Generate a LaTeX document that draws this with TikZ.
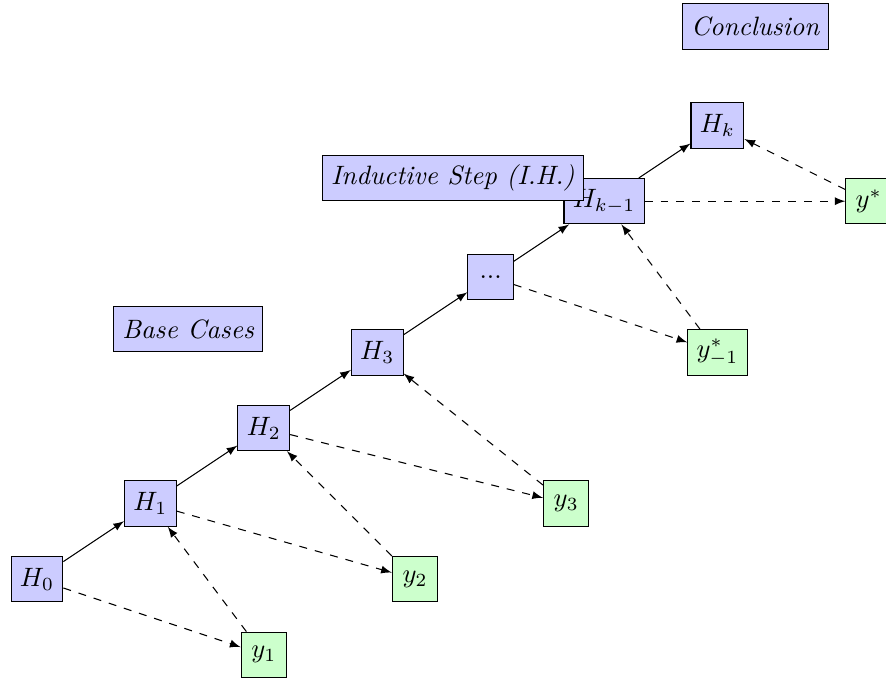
\documentclass[tikz,border=0pt]{standalone}
\begin{document}
\begin{tikzpicture}[
  hyp/.style={draw, fill=blue!20, minimum size=0.6cm},
  obs/.style={draw, fill=green!20, minimum size=0.6cm},
  lbl/.style={draw, fill=blue!20, minimum height=0.6cm, font=\itshape},
  infer/.style={-latex},
  use/.style={-latex, dashed}
]
\clip (-0.489,-1.294) rectangle (11.23,7.661);
\node[hyp] (h0) at (0,0) {$H_0$};
\node[hyp] (h1) at (1.5,1) {$H_1$};
\node[hyp] (h2) at (3,2) {$H_2$};
\node[hyp] (h3) at (4.5,3) {$H_3$};
\node[hyp] (hd) at (6,4) {$...$};
\node[hyp] (hk1) at (7.5,5) {$H_{k-1}$};
\node[hyp] (hk) at (9,6) {$H_k$};
\node[obs] (y1) at (3,-1) {$y_1$};
\node[obs] (y2) at (5,0) {$y_2$};
\node[obs] (y3) at (7,1) {$y_3$};
\node[obs] (ym) at (9,3) {$y^*_{-1}$};
\node[obs] (ys) at (11,5) {$y^*$};
\draw[infer] (h0) -- (h1);
\draw[infer] (h1) -- (h2);
\draw[infer] (h2) -- (h3);
\draw[infer] (h3) -- (hd);
\draw[infer] (hd) -- (hk1);
\draw[infer] (hk1) -- (hk);
\draw[use] (h0) -- (y1);
\draw[use] (y1) -- (h1);
\draw[use] (h1) -- (y2);
\draw[use] (y2) -- (h2);
\draw[use] (h2) -- (y3);
\draw[use] (y3) -- (h3);
\draw[use] (hd) -- (ym);
\draw[use] (ym) -- (hk1);
\draw[use] (hk1) -- (ys);
\draw[use] (ys) -- (hk);
\node[lbl] (base) at (2,3.31) {Base Cases};
\node[lbl] (ind) at (5.5,5.31) {Inductive Step (I.H.)};
\node[lbl] (conc) at (9.5,7.31) {Conclusion};
\end{tikzpicture}
\end{document}
